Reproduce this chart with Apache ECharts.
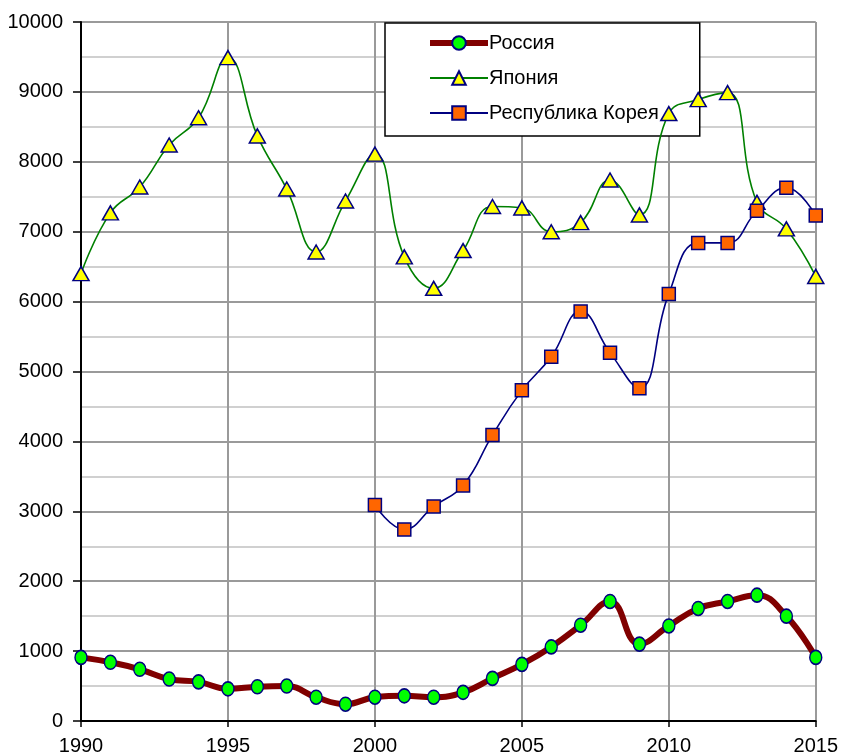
<!DOCTYPE html>
<html>
<head>
<meta charset="utf-8">
<script src="https://cdn.jsdelivr.net/npm/echarts@6/dist/echarts.min.js"></script>
<style>html,body{margin:0;padding:0;background:#fff;}#c{width:841px;height:756px;}</style>
</head>
<body>
<div id="c"></div>
<script>
const years = [1990,1991,1992,1993,1994,1995,1996,1997,1998,1999,2000,2001,2002,2003,2004,2005,2006,2007,2008,2009,2010,2011,2012,2013,2014,2015];
const russia = [910,840,740,600,560,460,490,500,340,240,340,360,340,410,610,810,1060,1370,1710,1100,1360,1610,1710,1800,1500,910];
const japan = [6400,7270,7640,8240,8630,9490,8370,7610,6710,7440,8110,6640,6190,6730,7360,7340,7000,7130,7740,7240,8690,8890,8990,7420,7040,6360];
const koreaYears = [2000,2001,2002,2003,2004,2005,2006,2007,2008,2009,2010,2011,2012,2013,2014,2015];
const korea = [3090,2740,3070,3370,4090,4730,5210,5860,5270,4760,6110,6840,6840,7300,7630,7230];
const seriesNames = ['Россия','Япония','Республика Корея'];

const pair = (xs, ys) => xs.map((x, i) => [x, ys[i]]);
const font = '"Liberation Sans", Arial, sans-serif';

const chart = echarts.init(document.getElementById('c'), null, {renderer: 'canvas'});
chart.setOption({
  animation: false,
  backgroundColor: '#ffffff',
  textStyle: {fontFamily: font, color: '#000'},
  grid: {left: 81, right: 25, top: 22, bottom: 35, containLabel: false},
  legend: {
    left: 385, top: 23,
    orient: 'vertical',
    z: 1,
    backgroundColor: '#ffffff',
    borderColor: '#000000',
    borderWidth: 1.5,
    borderRadius: 0,
    padding: [10, 41, 13, 42],
    itemWidth: 58, itemHeight: 17, itemGap: 15,
    textStyle: {fontFamily: font, fontSize: 20, color: '#000', padding: [0,0,0,-4]},
    data: [
      {name: seriesNames[0], lineStyle: {width: 6, color: '#800000'}},
      {name: seriesNames[1]},
      {name: seriesNames[2]}
    ]
  },
  xAxis: {
    type: 'value', min: 1990, max: 2015, interval: 5,
    axisLine: {show: true, lineStyle: {color: '#000', width: 2}},
    axisTick: {show: true, length: 6, lineStyle: {color: '#000', width: 1.5}},
    axisLabel: {fontFamily: font, fontSize: 20, color: '#000', margin: 15, formatter: v => String(v)},
    splitLine: {show: true, lineStyle: {color: '#9a9a9a', width: 2}}
  },
  yAxis: {
    type: 'value', min: 0, max: 10000, interval: 1000,
    axisLine: {show: true, lineStyle: {color: '#000', width: 2}},
    axisTick: {show: true, length: 8, lineStyle: {color: '#000', width: 1.5}},
    axisLabel: {fontFamily: font, fontSize: 20, color: '#000', margin: 18, formatter: v => String(v)},
    splitLine: {show: true, lineStyle: {color: '#9a9a9a', width: 2}},
    minorTick: {show: false, splitNumber: 2},
    minorSplitLine: {show: true, lineStyle: {color: '#d0d0d0', width: 2}}
  },
  series: [
    {
      name: seriesNames[1], type: 'line', z: 3,
      data: pair(years, japan), smooth: 0.45,
      symbol: 'triangle', symbolSize: [16, 14],
      lineStyle: {color: '#008000', width: 1.6},
      itemStyle: {color: '#ffff00', borderColor: '#000080', borderWidth: 1.5}
    },
    {
      name: seriesNames[2], type: 'line', z: 4,
      data: pair(koreaYears, korea), smooth: 0.45,
      symbol: 'rect', symbolSize: [13, 13],
      lineStyle: {color: '#000080', width: 1.6},
      itemStyle: {color: '#ff6600', borderColor: '#000080', borderWidth: 1.5}
    },
    {
      name: seriesNames[0], type: 'line', z: 5,
      data: pair(years, russia), smooth: 0.45,
      symbol: 'circle', symbolSize: [12, 14],
      lineStyle: {color: '#800000', width: 6},
      itemStyle: {color: '#00ff00', borderColor: '#000080', borderWidth: 1.5}
    }
  ]
});
</script>
</body>
</html>
